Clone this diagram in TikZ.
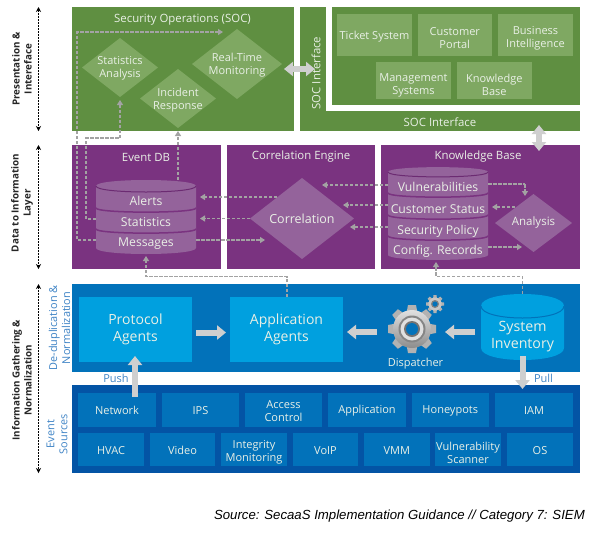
\documentclass[tikz,border=0pt]{standalone}
\usepackage{fontspec}
\setmainfont{Open Sans}
\newfontfamily\srcfont{Liberation Sans}
\usetikzlibrary{arrows.meta,shapes.geometric,calc}
\definecolor{gD}{HTML}{5F8F41}
\definecolor{gL}{HTML}{7FA862}
\definecolor{pD}{HTML}{7A3380}
\definecolor{pL}{HTML}{94639B}
\definecolor{pS}{HTML}{6C2B72}
\definecolor{bM}{HTML}{0272BA}
\definecolor{bL}{HTML}{00A0DF}
\definecolor{bD}{HTML}{0354A5}
\definecolor{lbl}{HTML}{3F84C6}
\definecolor{txt}{HTML}{E9F0E6}
\definecolor{dsh}{HTML}{A3A3A3}
\definecolor{blk}{HTML}{CFCFCF}
\newcommand\rbox[7][]{%
  \pgfmathsetlengthmacro\rw{(#5-#3)*1pt}\pgfmathsetlengthmacro\rh{(#6-#4)*1pt}%
  \node[#1,minimum width=\rw,minimum height=\rh] (#2) at ({(#3+#5)/2},{(#4+#6)/2}) {};}
\newcommand\tbox[8][]{%
  \rbox[#1,label={[plain,yshift=-#8pt]center:#7}]{#2}{#3}{#4}{#5}{#6}{}}
\tikzset{
  x=1pt,y=-1pt,
  plain/.style={inner sep=0pt,outer sep=0pt,align=center,text=txt,font=\fontsize{11}{13}\selectfont},
  greenpanel/.style={plain,fill=gD},
  greenbox/.style={plain,fill=gL},
  purplepanel/.style={plain,fill=pD},
  bluepanel/.style={plain,fill=bM},
  darkpanel/.style={plain,fill=bD},
  agentbox/.style={plain,fill=bL},
  agenttext/.style={plain,font=\fontsize{14}{17.5}\selectfont},
  sourcebox/.style={plain,fill=bM},
  title/.style={plain,font=\fontsize{11.4}{13}\selectfont},
  diam/.style={diamond,shape aspect=1.3,inner sep=0pt,outer sep=0pt,align=center},
  gdiam/.style={diam,fill=gL},
  pdiam/.style={diam,fill=pL},
  dtext/.style={plain,font=\fontsize{11}{13}\selectfont},
  band/.style={plain,minimum width=100pt,font=\fontsize{12.2}{14}\selectfont},
  flow/.style={draw=dsh,line width=1.2pt,dash pattern=on 3.5pt off 1.5pt,-{Triangle[length=5pt,width=6pt,fill=dsh]}},
  flowplain/.style={draw=dsh,line width=1.2pt,dash pattern=on 3.5pt off 1.5pt},
  bigarrow/.style={draw=blk,line width=6pt,-{Triangle[length=9pt,width=14pt,fill=blk]}},
  bigdouble/.style={draw=blk,line width=6pt,{Triangle[length=9pt,width=14pt,fill=blk]}-{Triangle[length=9pt,width=14pt,fill=blk]}},
  sidearrow/.style={draw=black,line width=.8pt,dash pattern=on 2pt off 1pt,{Stealth[length=5pt,width=5pt]}-{Stealth[length=5pt,width=5pt]}},
  sidelabel/.style={inner sep=0pt,align=center,rotate=90,text=black!85,font=\fontsize{9.8}{12}\selectfont\bfseries},
  bluelabel/.style={inner sep=0pt,align=center,rotate=90,text=lbl,font=\fontsize{10.9}{13}\selectfont},
}
\begin{document}
\begin{tikzpicture}
\useasboundingbox[fill=white] (0,0) rectangle (596,536);

% ---- panels
\rbox[greenpanel]{soc}{71.5}{7}{294}{131}{}
\rbox[greenpanel]{socv}{300}{7}{325.5}{131}{}
\rbox[greenpanel]{socbar}{300}{110.5}{580}{131}{}
\rbox[greenpanel]{ext}{331.5}{7}{580}{105}{}
\rbox[purplepanel]{edb}{71.5}{145}{221}{269}{}
\rbox[purplepanel]{cep}{227}{145}{375}{269}{}
\rbox[purplepanel]{kb}{381}{145}{580}{269}{}
\rbox[bluepanel]{dedup}{71.5}{283.5}{580}{372}{}
\rbox[darkpanel]{evs}{71.5}{385}{580}{473}{}

% ---- titles
\node[title] (t1) at (182.5,19.5) {Security Operations (SOC)};
\node[title,rotate=90] (t2) at (316,73) {SOC Interface};
\node[title] (t3) at (440,122) {SOC Interface};
\node[title] (t4) at (146,157) {Event DB};
\node[title] (t5) at (301,157) {Correlation Engine};
\node[title] (t6) at (478,157) {Knowledge Base};

% ---- external systems
\tbox[greenbox]{ticket}{337}{14}{412}{56}{Ticket System}{2}
\tbox[greenbox]{portal}{417.5}{14}{492}{56}{Customer\\Portal}{3}
\tbox[greenbox]{bi}{498}{14}{573}{56}{Business\\Intelligence}{3}
\tbox[greenbox]{mgmt}{376}{62}{451}{99}{Management\\Systems}{4.5}
\tbox[greenbox]{kbase}{457}{62}{531.5}{99}{Knowledge\\Base}{4.5}

% ---- Event DB cylinder
\fill[pL] (96,186) -- (96,248) .. controls (96,256) and (196,256) .. (196,248) -- (196,186) .. controls (196,178) and (96,178) .. (96,186) -- cycle;
\draw[pS,line width=1pt] (96,186) .. controls (96,194) and (196,194) .. (196,186);
\draw[pD,line width=1.5pt] (96,208) .. controls (96,213.5) and (196,213.5) .. (196,208);
\draw[pD,line width=1.5pt] (96,229) .. controls (96,234.5) and (196,234.5) .. (196,229);
\node[band] (alerts) at (146,201) {Alerts};
\node[band] (stats) at (146,222) {Statistics};
\node[band] (msgs) at (146,244) {Messages};

% ---- Knowledge Base cylinder
\fill[pL] (388,172) -- (388,255) .. controls (388,261.5) and (488,261.5) .. (488,255) -- (488,172) .. controls (488,165.5) and (388,165.5) .. (388,172) -- cycle;
\draw[pS,line width=1pt] (388,172) .. controls (388,178.5) and (488,178.5) .. (488,172);
\draw[pD,line width=1.5pt] (388,193) .. controls (388,198.5) and (488,198.5) .. (488,193);
\draw[pD,line width=1.5pt] (388,215) .. controls (388,220.5) and (488,220.5) .. (488,215);
\draw[pD,line width=1.5pt] (388,236) .. controls (388,241.5) and (488,241.5) .. (488,236);
\node[band] (vuln) at (438,187) {Vulnerabilities};
\node[band] (cust) at (438,209) {Customer Status};
\node[band] (poli) at (438,231) {Security Policy};
\node[band] (conf) at (438,251) {Config. Records};

% ---- agents
\node[agentbox,minimum width=113pt,minimum height=65pt,label={[agenttext]center:Protocol\\Agents}] (proto) at (135.5,329.5) {};
\node[agentbox,minimum width=113pt,minimum height=65pt,label={[agenttext]center:Application\\Agents}] (appl) at (286.5,329.5) {};

% ---- System Inventory cylinder
\fill[bL] (481,306) -- (481,348) .. controls (481,364) and (564,364) .. (564,348) -- (564,306) .. controls (564,290) and (481,290) .. (481,306) -- cycle;
\draw[bM,line width=1pt] (481,306) .. controls (481,322) and (564,322) .. (564,306);
\node[plain,minimum width=83pt,minimum height=66pt,label={[plain,yshift=-10pt,font=\fontsize{14.2}{17}\selectfont]center:System\\Inventory}] (inv) at (522.5,327) {};

% ---- dispatcher gear
\node[circle,minimum size=48pt,inner sep=0pt,outer sep=0pt] (gear) at (412,332) {};
\begin{scope}[shift={(412,329)}]
  \foreach \a in {0,45,...,315}
    \fill[rotate=\a,black!30] (-5.5pt,16pt) -- (-4pt,24pt) -- (4pt,24pt) -- (5.5pt,16pt) -- cycle;
  \shade[top color=black!12,bottom color=black!45] (0,0) circle[radius=19];
  \fill[black!48] (0,0) circle[radius=13.5];
  \fill[black!12] (0,0) circle[radius=11.5];
  \fill[black!55] (0,0) circle[radius=8];
  \fill[bM] (0,0) circle[radius=6];
\end{scope}
\begin{scope}[shift={(435,304)}]
  \foreach \a in {0,45,...,315}
    \fill[rotate=\a,black!30] (-2pt,5pt) -- (-1.5pt,9pt) -- (1.5pt,9pt) -- (2pt,5pt) -- cycle;
  \fill[black!22] (0,0) circle[radius=6.5];
  \fill[black!50] (0,0) circle[radius=4];
  \fill[bM] (0,0) circle[radius=2.6];
\end{scope}
\node[plain] (disp) at (415.5,363.5) {Dispatcher};

% ---- event sources
\tbox[sourcebox]{s1}{78}{393}{156}{427}{Network}{0.5}
\tbox[sourcebox]{s2}{162}{393}{239}{427}{IPS}{0.5}
\tbox[sourcebox]{s3}{245}{393}{322}{427}{Access\\Control}{1}
\tbox[sourcebox]{s4}{328}{393}{406}{427}{Application}{0.5}
\tbox[sourcebox]{s5}{411.5}{393}{489}{427}{Honeypots}{0.5}
\tbox[sourcebox]{s6}{495}{393}{573}{427}{IAM}{0.5}
\tbox[sourcebox]{s7}{78}{433}{144}{466}{HVAC}{1}
\tbox[sourcebox]{s8}{150}{433}{215}{466}{Video}{1}
\tbox[sourcebox]{s9}{221}{433}{287}{466}{Integrity\\Monitoring}{3}
\tbox[sourcebox]{s10}{293}{433}{358}{466}{VoIP}{1}
\tbox[sourcebox]{s11}{364}{433}{429.5}{466}{VMM}{1}
\tbox[sourcebox]{s12}{435}{433}{501}{466}{Vulnerability\\Scanner}{3}
\tbox[sourcebox]{s13}{507}{433}{573}{466}{OS}{1}

% ---- diamonds
\node[gdiam,minimum width=76pt,minimum height=59pt,label={[dtext,yshift=-1pt]center:Statistics\\Analysis}] (sa) at (120,67.5) {};
\node[gdiam,minimum width=90pt,minimum height=70pt,label={[dtext,yshift=-1pt]center:Real-Time\\Monitoring}] (rt) at (237,64) {};
\node[gdiam,minimum width=76pt,minimum height=59pt,label={[dtext,yshift=-2pt]center:Incident\\Response}] (ir) at (178,98.5) {};
\node[pdiam,minimum width=104pt,minimum height=81pt,label={[dtext,font=\fontsize{12.5}{14}\selectfont]center:Correlation}] (corr) at (302,218.5) {};
\node[pdiam,minimum width=77pt,minimum height=58pt,label={[dtext,font=\fontsize{11.5}{14}\selectfont]center:Analysis}] (ana) at (533.5,223) {};

% ---- named free points of the dashed routes
\coordinate (rA) at (77,32);
\coordinate (rB) at (86,138);
\coordinate (rC) at (287,276.5);
\coordinate (rD) at (522.5,276.5);
\coordinate (rE) at (525,184);

% ---- dashed flows
\draw[flow] ([yshift=4pt]msgs.west) -| (rA) -- ([xshift=-14pt]rt.north |- rA);
\draw[flow] ([yshift=3pt]stats.west) -| (rB) -| ([yshift=-3pt]sa.south);
\draw[flow] (178,180) -- ([yshift=-3pt]ir.south);
\draw[flow] (277,197) -- ([xshift=4pt,yshift=4pt]alerts.east);
\draw[flow] (corr.west) -- ([xshift=4pt]stats.east |- corr.west);
\draw[flow] ([yshift=4pt]msgs.east) -- (265,240);
\draw[flow] ([yshift=2pt]vuln.west) -- (322,185);
\draw[flow] ([yshift=4pt]cust.west) -- (343,205);
\draw[flow] ([yshift=4pt]poli.west) -- (350,227);
\draw[flowplain] ([yshift=3pt]vuln.east) -- (rE);
\draw[flow] (rE) -- (525,196);
\draw[flow] (515,207) -- ([xshift=4pt,yshift=2pt]cust.east);
\draw[flow] ([yshift=4pt]conf.east) -- (522,247);
\draw[flow] (rC |- appl.north) -- (rC) -| (146,256);
\draw[flow] (rD |- inv.north) -- (rD) -| (436,262);

% ---- block arrows
\draw[bigarrow,shorten <=4pt,shorten >=4pt] ([yshift=-3pt]proto.east) -- ([yshift=-3pt]appl.west);
\draw[bigarrow,shorten <=11pt,shorten >=4pt] ([yshift=0pt]gear.west) -- ([yshift=-2.5pt]appl.east);
\draw[bigarrow,shorten <=6pt,shorten >=9pt] ([yshift=-5pt]inv.west) -- (gear.east);
\draw[bigarrow,shorten <=-4pt,shorten >=-6pt] (s1.north -| 135,385) -- (proto.south -| 135,362);
\draw[bigarrow,shorten <=-4pt,shorten >=-4pt] (inv.south) -- (inv.south |- evs.north);
\draw[bigdouble,shorten <=-10pt,shorten >=-15pt] (soc.east) -- (socv.west);
\coordinate (pb) at (539,131);
\coordinate (pk) at (539,145);
\draw[bigdouble,shorten <=-6pt,shorten >=-6pt] (pb) -- (pk);

% ---- labels
\node[plain,text=lbl,font=\fontsize{11}{13}\selectfont] (push) at (116,378.5) {Push};
\node[plain,text=lbl,font=\fontsize{11}{13}\selectfont] (pull) at (543.5,378.5) {Pull};
\node[bluelabel] (ldd) at (59.5,328) {De-duplication \&\\Normalization};
\node[bluelabel] (les) at (57,434) {Event\\Sources};

% ---- side rails
\node[sidelabel] (l1) at (22,69) {Presentation \&\\Intereface};
\node[sidelabel] (l2) at (22,203) {Data to Information\\Layer};
\node[sidelabel] (l3) at (22,380) {Information Gathering \&\\Normalization};
\draw[sidearrow] (38.5,7) -- (38.5,131);
\draw[sidearrow] (38.5,145) -- (38.5,269);
\draw[sidearrow] (38.5,284) -- (38.5,473);

\node[inner sep=0pt,anchor=east,font=\srcfont\itshape\fontsize{13.2}{15}\selectfont] (src) at (585,516.5) {Source: SecaaS Implementation Guidance // Category 7: SIEM};
\end{tikzpicture}
\end{document}
